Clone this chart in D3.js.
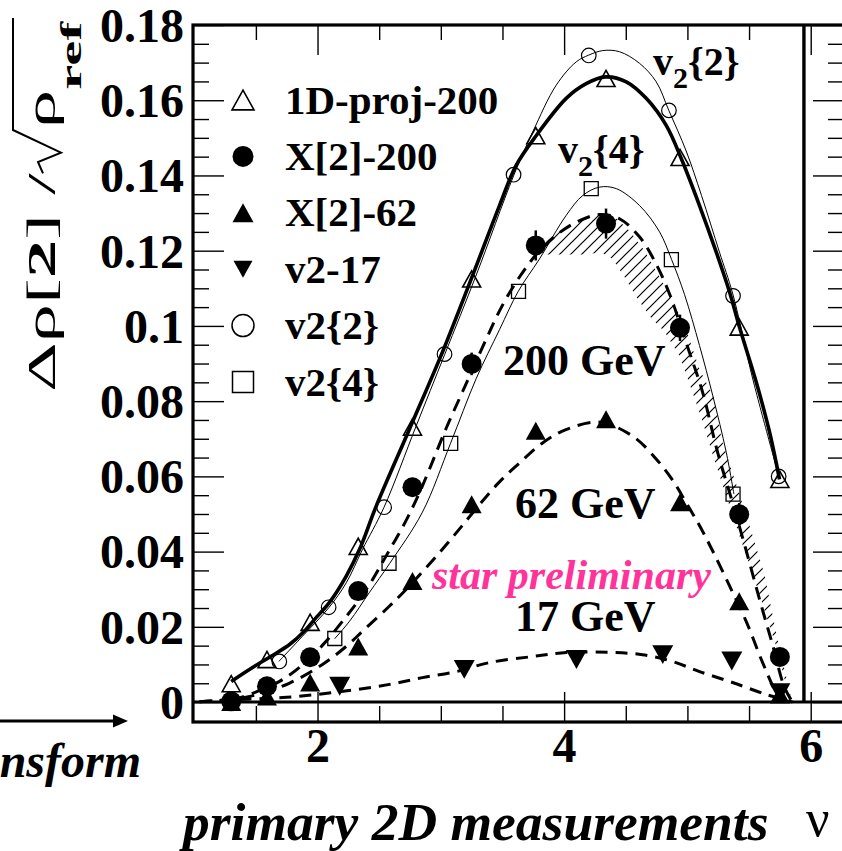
<!DOCTYPE html>
<html>
<head>
<meta charset="utf-8">
<script src="https://cdn.jsdelivr.net/npm/d3@7"></script>
<style>
  html, body { margin: 0; padding: 0; background: #fff; }
  svg { display: block; }
  text { font-family: "Liberation Serif", "Times New Roman", serif; }
</style>
</head>
<body>
<svg id="chart" width="842" height="851"></svg>
<script>
// ---------------- data ----------------
// nu bins of the 200 / 62 GeV measurements
const nuBins = [1.30, 1.59, 1.94, 2.33, 2.77, 3.25, 3.77, 4.34, 4.94, 5.42, 5.75];
const proj1D200 = [0.0049, 0.0113, 0.0212, 0.0414, 0.0731, 0.1125, 0.1506, 0.1658, 0.1448, 0.0997, 0.0592];
const x2_200    = [0.0002, 0.0042, 0.0119, 0.0295, 0.0571, 0.0899, 0.1214, 0.1272, 0.0995, 0.0499, 0.0120];
const x2_200err = [0.0010, 0.0012, 0.0015, 0.0020, 0.0025, 0.0030, 0.0040, 0.0040, 0.0035, 0.0030, 0.0020];
const x2_62     = [0.0000, 0.0015, 0.0052, 0.0148, 0.0322, 0.0526, 0.0721, 0.0752, 0.0531, 0.0268, 0.0020];
const x2_62err  = [0.0005, 0.0008, 0.0010, 0.0012, 0.0015, 0.0018, 0.0020, 0.0020, 0.0018, 0.0015, 0.0010];

const nu17  = [2.18, 3.19, 4.10, 4.80, 5.36, 5.75];
const v2_17 = [0.0042, 0.0087, 0.0113, 0.0126, 0.0109, 0.0025];

const nuV22 = [1.69, 2.09, 2.54, 3.03, 3.59, 4.20, 4.85, 5.37, 5.74];
const v2_2  = [0.0108, 0.0252, 0.0518, 0.0925, 0.1402, 0.1719, 0.1573, 0.1080, 0.0600];

const nuV24 = [2.14, 2.58, 3.08, 3.63, 4.22, 4.87, 5.37];
const v2_4  = [0.0169, 0.0369, 0.0688, 0.1092, 0.1365, 0.1176, 0.0553];

// smooth curves
const fitProjNu  = [1.300,1.473,1.624,1.773,1.895,1.976,2.097,2.233,2.341,2.476,2.746,3.014,3.247,3.476,3.611,3.776,4.017,4.179,4.336,4.504,4.666,4.828,4.950,5.098,5.234,5.341,5.422,5.558,5.666,5.747];
const fitProjVal = [0.0055,0.0092,0.0122,0.0153,0.0189,0.0220,0.0265,0.0335,0.0406,0.0521,0.0726,0.0931,0.1125,0.1320,0.1427,0.1507,0.1605,0.1644,0.1662,0.1649,0.1605,0.1533,0.1445,0.1320,0.1196,0.1091,0.0997,0.0851,0.0718,0.0592];

const fitV22Nu  = [1.686,1.878,2.092,2.233,2.365,2.538,2.800,3.030,3.287,3.590,3.746,3.936,4.098,4.200,4.314,4.449,4.612,4.747,4.849,4.990,5.114,5.260,5.368,5.530,5.741];
const fitV22Val = [0.0108,0.0175,0.0251,0.0317,0.0406,0.0517,0.0734,0.0923,0.1135,0.1399,0.1516,0.1640,0.1702,0.1720,0.1732,0.1729,0.1698,0.1649,0.1573,0.1465,0.1347,0.1196,0.1085,0.0859,0.0601];

const fitV24Nu  = [2.138,2.260,2.422,2.584,2.851,3.079,3.287,3.476,3.628,3.800,4.017,4.152,4.287,4.423,4.612,4.774,4.871,4.977,5.098,5.206,5.315,5.377];
const fitV24Val = [0.0168,0.0215,0.0292,0.0368,0.0505,0.0688,0.0860,0.0990,0.1092,0.1178,0.1294,0.1347,0.1369,0.1365,0.1320,0.1250,0.1177,0.1083,0.0948,0.0814,0.0664,0.0553];

const fit200Nu  = [1.304,1.489,1.692,1.854,2.032,2.203,2.397,2.559,2.722,2.851,3.046,3.176,3.354,3.492,3.638,3.800,3.963,4.125,4.287,4.449,4.611,4.733,4.855,4.993,5.123,5.244,5.358,5.463,5.585,5.690,5.787,5.852];
const fit200Val = [0.0004,0.0025,0.0055,0.0092,0.0148,0.0215,0.0300,0.0390,0.0485,0.0575,0.0730,0.0825,0.0955,0.1050,0.1130,0.1200,0.1248,0.1280,0.1296,0.1285,0.1237,0.1173,0.1085,0.0952,0.0824,0.0665,0.0539,0.0419,0.0273,0.0153,0.0039,0.0000];

const fit62Nu  = [1.043,1.450,1.770,2.040,2.240,2.370,2.580,2.720,2.970,3.100,3.460,3.640,3.830,4.020,4.290,4.560,4.750,4.880,4.990,5.100,5.200,5.340,5.480,5.610,5.730,5.790];
const fit62Val = [0.0001,0.0015,0.0050,0.0100,0.0150,0.0190,0.0254,0.0300,0.0390,0.0440,0.0580,0.0636,0.0690,0.0725,0.0744,0.0706,0.0645,0.0590,0.0530,0.0468,0.0405,0.0310,0.0212,0.0105,0.0020,0.0000];

const fit17Nu  = [1.043,1.367,1.716,2.121,2.584,2.851,3.127,3.395,3.744,4.019,4.368,4.636,4.879,5.098,5.366,5.641,5.852];
const fit17Val = [0.0001,0.0007,0.0012,0.0025,0.0047,0.0065,0.0081,0.0105,0.0121,0.0132,0.0132,0.0126,0.0108,0.0081,0.0052,0.0020,0.0000];

// systematic band on the 200 GeV curve (outer and inner edges)
const bandOutNu  = [3.801,3.963,4.125,4.287,4.409,4.530,4.652,4.774,4.895,5.001,5.098,5.220,5.277,5.382,5.488,5.625,5.731,5.844];
const bandOutVal = [0.1218,0.1253,0.1279,0.1296,0.1290,0.1253,0.1200,0.1130,0.1059,0.0979,0.0885,0.0806,0.0699,0.0593,0.0486,0.0340,0.0166,0.0007];
const bandInNu   = [3.857,4.003,4.149,4.303,4.392,4.490,4.595,4.709,4.814,4.936,5.017,5.114,5.195,5.301,5.422,5.520,5.625,5.731,5.828];
const bandInVal  = [0.1190,0.1190,0.1190,0.1195,0.1178,0.1130,0.1072,0.1020,0.0985,0.0920,0.0846,0.0755,0.0668,0.0562,0.0442,0.0350,0.0244,0.0138,0.0007];

// axes
const yMajor = [0, 0.02, 0.04, 0.06, 0.08, 0.10, 0.12, 0.14, 0.16, 0.18];
const yTickLabels = ["0", "0.02", "0.04", "0.06", "0.08", "0.1", "0.12", "0.14", "0.16", "0.18"];
const xMajor = [2, 4, 6];
const xTickLabels = ["2", "4", "6"];
const cutNu = 5.945;

const legendLabels = ["1D-proj-200", "X[2]-200", "X[2]-62", "v2-17", "v2{2}", "v2{4}"];

// ---------------- drawing ----------------
const svg = d3.select("#chart");
const FONT = '"Liberation Serif", "Times New Roman", serif';

const x = d3.scaleLinear().domain([0.99, 6.27]).range([193, 844]);
const y = d3.scaleLinear().domain([-0.0053, 0.18]).range([722, 25]);
const [xL, xR] = x.range();
const [yB, yT] = y.range();

// marker shapes centred on their bounding box
const triUp = { draw(ctx, size) { const w = Math.sqrt(size), h = w * 0.9;
  ctx.moveTo(-w / 2, h / 2); ctx.lineTo(w / 2, h / 2); ctx.lineTo(0, -h / 2); ctx.closePath(); } };
const triDown = { draw(ctx, size) { const w = Math.sqrt(size), h = w * 0.9;
  ctx.moveTo(-w / 2, -h / 2); ctx.lineTo(w / 2, -h / 2); ctx.lineTo(0, h / 2); ctx.closePath(); } };

const markerStyles = {
  proj:  { type: triUp,   size: 18 * 18, fill: "none", sw: 1.6 },
  x200:  { type: d3.symbolCircle, size: Math.PI * 10 * 10, fill: "#000", sw: 0 },
  x62:   { type: triUp,   size: 20 * 20, fill: "#000", sw: 0 },
  v17:   { type: triDown, size: 21 * 21, fill: "#000", sw: 0 },
  v22:   { type: d3.symbolCircle, size: Math.PI * 7.3 * 7.3, fill: "none", sw: 1.2 },
  v24:   { type: d3.symbolSquare, size: 14 * 14, fill: "none", sw: 1.3 }
};
const legendStyles = {
  proj: { ...markerStyles.proj, size: 22 * 22 },
  x200: { ...markerStyles.x200, size: Math.PI * 10.5 * 10.5 },
  x62:  { ...markerStyles.x62, size: 21 * 21 },
  v17:  { ...markerStyles.v17, size: 19 * 19 },
  v22:  { ...markerStyles.v22, size: Math.PI * 11 * 11, sw: 1.5 },
  v24:  { ...markerStyles.v24, size: 21 * 21, sw: 1.5 }
};

// hatch pattern for the systematic band
const defs = svg.append("defs");
defs.append("pattern").attr("id", "hatch").attr("patternUnits", "userSpaceOnUse")
  .attr("width", 11).attr("height", 11)
  .append("path").attr("d", "M0,11L11,0M-2,2L2,-2M9,13L13,9")
  .attr("stroke", "#000").attr("stroke-width", 1.2);
defs.append("clipPath").attr("id", "plotClip")
  .append("rect").attr("x", xL).attr("y", yT).attr("width", xR - xL).attr("height", yB - yT);

// ticks on all four sides, pointing inward
function tickStyle(g) {
  g.select(".domain").remove();
  g.selectAll("line").attr("stroke", "#000").attr("stroke-width", 1.4);
  g.attr("font-family", FONT).attr("font-size", 48).attr("font-weight", "bold");
}
const yMinor = d3.range(0.005, 0.18, 0.005).filter(v => !yMajor.some(m => Math.abs(m - v) < 1e-6));
const xMinor = d3.range(1.5, 6.2, 0.5).filter(v => !xMajor.some(m => Math.abs(m - v) < 1e-6));

svg.append("g").attr("transform", `translate(${xL},0)`)
  .call(d3.axisLeft(y).tickValues(yMajor).tickSize(-31).tickPadding(9).tickFormat((d, i) => yTickLabels[i]))
  .call(tickStyle)
  .selectAll("text").attr("fill", "#000").attr("dy", "0.34em");
svg.append("g").attr("transform", `translate(${xL},0)`)
  .call(d3.axisLeft(y).tickValues(yMinor).tickSize(-16).tickFormat(""))
  .call(tickStyle);
svg.append("g").attr("transform", `translate(${xR},0)`)
  .call(d3.axisRight(y).tickValues(yMajor).tickSize(-31).tickFormat(""))
  .call(tickStyle);
svg.append("g").attr("transform", `translate(${xR},0)`)
  .call(d3.axisRight(y).tickValues(yMinor).tickSize(-16).tickFormat(""))
  .call(tickStyle);
svg.append("g").attr("transform", `translate(0,${yB})`)
  .call(d3.axisBottom(x).tickValues(xMajor).tickSize(-30).tickFormat((d, i) => xTickLabels[i]))
  .call(tickStyle)
  .selectAll("text").attr("fill", "#000").attr("y", 40).attr("dy", 0);
svg.append("g").attr("transform", `translate(0,${yB})`)
  .call(d3.axisBottom(x).tickValues(xMinor).tickSize(-16).tickFormat(""))
  .call(tickStyle);
svg.append("g").attr("transform", `translate(0,${yT})`)
  .call(d3.axisTop(x).tickValues(xMajor).tickSize(-30).tickFormat(""))
  .call(tickStyle);
svg.append("g").attr("transform", `translate(0,${yT})`)
  .call(d3.axisTop(x).tickValues(xMinor).tickSize(-15).tickFormat(""))
  .call(tickStyle);

// frame, zero line and the vertical edge line
svg.append("rect").attr("x", xL).attr("y", yT).attr("width", xR - xL).attr("height", yB - yT)
  .attr("fill", "none").attr("stroke", "#000").attr("stroke-width", 3.2);
svg.append("line").attr("x1", xL).attr("x2", xR).attr("y1", y(0)).attr("y2", y(0))
  .attr("stroke", "#000").attr("stroke-width", 3);
svg.append("line").attr("x1", x(cutNu)).attr("x2", x(cutNu)).attr("y1", yT).attr("y2", y(0))
  .attr("stroke", "#000").attr("stroke-width", 3.4);

const plot = svg.append("g").attr("clip-path", "url(#plotClip)");

// hatched systematic band
const bandPts = bandOutNu.map((n, i) => [x(n), y(bandOutVal[i])])
  .concat(bandInNu.map((n, i) => [x(n), y(bandInVal[i])]).reverse());
plot.append("path").attr("d", "M" + bandPts.join("L") + "Z")
  .attr("fill", "url(#hatch)").attr("stroke", "none");

// curves
const line = d3.line().x(d => x(d[0])).y(d => y(d[1])).curve(d3.curveCatmullRom.alpha(0.5));
const zip = (a, b) => a.map((v, i) => [v, b[i]]);
function curve(nu, val, width, dash) {
  plot.append("path").datum(zip(nu, val)).attr("d", line)
    .attr("fill", "none").attr("stroke", "#000").attr("stroke-width", width)
    .attr("stroke-dasharray", dash || null);
}
curve(fit17Nu, fit17Val, 3, "12,8");
curve(fit62Nu, fit62Val, 3, "13,8");
curve(fit200Nu, fit200Val, 3, "13,8");
curve(fitV24Nu, fitV24Val, 1);
curve(fitV22Nu, fitV22Val, 1);
curve(fitProjNu, fitProjVal, 3.6);

// error bars
function errBars(nu, val, err, w) {
  plot.append("g").selectAll("line").data(nu).join("line")
    .attr("x1", d => x(d)).attr("x2", d => x(d))
    .attr("y1", (d, i) => y(val[i] - err[i])).attr("y2", (d, i) => y(val[i] + err[i]))
    .attr("stroke", "#000").attr("stroke-width", w);
}
errBars(nuBins, x2_200, x2_200err, 2.5);
errBars(nuBins, x2_62, x2_62err, 1.5);

// markers
function markers(nu, val, st) {
  plot.append("g").selectAll("path").data(nu).join("path")
    .attr("d", d3.symbol().type(st.type).size(st.size))
    .attr("transform", (d, i) => `translate(${x(d)},${y(val[i])})`)
    .attr("fill", st.fill).attr("stroke", "#000").attr("stroke-width", st.sw);
}
markers(nu17, v2_17, markerStyles.v17);
markers(nuBins, x2_62, markerStyles.x62);
markers(nuBins, x2_200, markerStyles.x200);
markers(nuV24, v2_4, markerStyles.v24);
markers(nuV22, v2_2, markerStyles.v22);
markers(nuBins, proj1D200, markerStyles.proj);

// legend
const legendKeys = ["proj", "x200", "x62", "v17", "v22", "v24"];
const legend = svg.append("g");
legendKeys.forEach((k, i) => {
  const ly = 100 + i * 56.4;
  const st = legendStyles[k];
  legend.append("path").attr("d", d3.symbol().type(st.type).size(st.size)())
    .attr("transform", `translate(243,${ly})`)
    .attr("fill", st.fill).attr("stroke", "#000").attr("stroke-width", st.sw);
  legend.append("text").attr("x", 285).attr("y", ly + 13.5)
    .attr("font-size", 41).attr("font-weight", "bold").text(legendLabels[i]);
});

// curve annotations
function subLabel(x0, y0, sub, rest) {
  const t = svg.append("text").attr("x", x0).attr("y", y0)
    .attr("font-size", 40).attr("font-weight", "bold");
  t.append("tspan").text("v");
  t.append("tspan").attr("font-size", 30).attr("dy", 13).text(sub);
  t.append("tspan").attr("dy", -13).text(rest);
}
subLabel(653, 75, "2", "{2}");
subLabel(558, 163, "2", "{4}");

const gev = [["200 GeV", 503, 375], ["62 GeV", 515, 518], ["17 GeV", 515, 631]];
gev.forEach(([t, gx, gy]) => svg.append("text").attr("x", gx).attr("y", gy)
  .attr("font-size", 44).attr("font-weight", "bold").text(t));

svg.append("text").attr("x", 432).attr("y", 589)
  .attr("font-size", 42).attr("font-weight", "bold").attr("font-style", "italic")
  .attr("fill", "#ff3399").text("star preliminary");

// axis titles
svg.append("text").attr("x", 183).attr("y", 840)
  .attr("font-size", 53.5).attr("font-weight", "bold").attr("font-style", "italic")
  .text("primary 2D measurements");
svg.append("text").attr("x", 806).attr("y", 836)
  .attr("font-size", 52).text("ν");

svg.append("text").attr("x", 141).attr("y", 777).attr("text-anchor", "end")
  .attr("font-size", 48).attr("font-weight", "bold").attr("font-style", "italic")
  .text("transform");
svg.append("line").attr("x1", 0).attr("x2", 118).attr("y1", 721).attr("y2", 721)
  .attr("stroke", "#000").attr("stroke-width", 3);
svg.append("path").attr("d", "M128,721L113,714.5L113,727.5Z").attr("fill", "#000");

// y title: Δρ[2] / √ρ_ref, read bottom to top
(function () {
  const fs = 41;
  const g = svg.append("g");
  const parts = [
    { t: "Δρ[", w: "normal", s: fs, dy: 0 },
    { t: "2", w: "bold", s: fs, dy: 0 },
    { t: "] / ", w: "normal", s: fs, dy: 0 },
    { rad: 24 },
    { t: "ρ", w: "normal", s: fs, dy: 0 },
    { t: "ref", w: "bold", s: 30, dy: 26 }
  ];
  let u = 0, radStart = 0;
  parts.forEach(p => {
    if (p.rad) { radStart = u; u += p.rad; return; }
    const t = g.append("text").attr("x", u).attr("y", p.dy)
      .attr("font-size", p.s).attr("font-weight", p.w).text(p.t);
    u += t.node().getComputedTextLength();
  });
  const end = u + 2;
  g.append("path")
    .attr("d", `M${radStart},-12L${radStart + 6},-17L${radStart + 11},6L${radStart + 23},-42L${end},-42`)
    .attr("fill", "none").attr("stroke", "#000").attr("stroke-width", 2)
    .attr("vector-effect", "non-scaling-stroke");
  const s = 374 / end;
  g.attr("transform", `translate(55,392) rotate(-90) scale(${s},1)`);
})();
</script>
</body>
</html>
